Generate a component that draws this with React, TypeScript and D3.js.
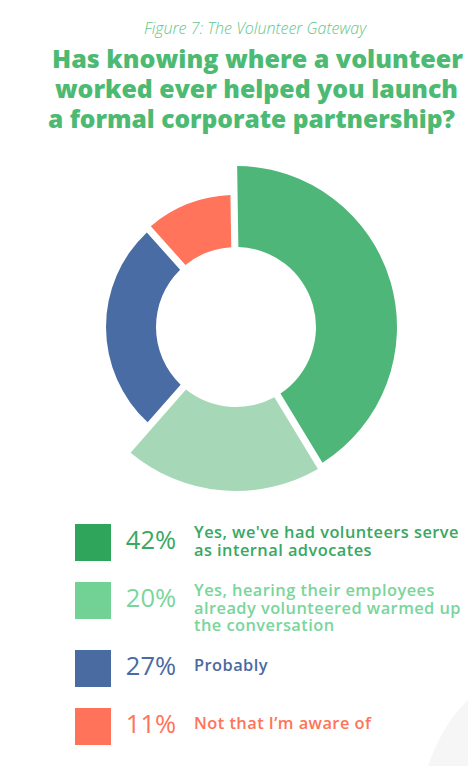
import { useMemo } from "react";
import * as d3 from "d3";

const width = 468;
const height = 766;

// chart data
const categories = [
  "Yes, we've had volunteers serve as internal advocates",
  "Yes, hearing their employees already volunteered warmed up the conversation",
  "Probably",
  "Not that I’m aware of",
];
const labelLines = [
  ["Yes, we've had volunteers serve", "as internal advocates"],
  ["Yes, hearing their employees", "already volunteered warmed up", "the conversation"],
  ["Probably"],
  ["Not that I’m aware of"],
];
const values = [42, 20, 27, 11];

const subtitle = "Figure 7: The Volunteer Gateway";
const titleLines = [
  "Has knowing where a volunteer",
  "worked ever helped you launch",
  "a formal corporate partnership?",
];

// styles
const sliceInner = ["#60cc8e", "#bae5cb", "#4a6ca4", "#ff745a"];
const sliceOuter = ["#4eb678", "#a6d8b8", "#4a6ca4", "#ff745a"];
const outerRadii = [161, 164, 130, 132];
const legendColors = ["#2ea55b", "#72d194", "#4a6aa2", "#ff735a"];
const textColors = ["#38a862", "#7ad59b", "#4a6aa2", "#ff7359"];
const titleColor = "#4cba72";

const cx = 236;
const cy = 327;
const innerR = 80;

const App = () => {
  const arcs = useMemo(() => {
    const pie = d3
      .pie<number>()
      .sort(null)
      .value((d) => d)
      .startAngle(-0.015)
      .endAngle(Math.PI * 2 - 0.015)
      .padAngle(0.04);
    return pie(values).map((a, i) => {
      const arc = d3
        .arc<d3.PieArcDatum<number>>()
        .innerRadius(innerR)
        .outerRadius(outerRadii[i])
        .padRadius(178);
      return arc(a) as string;
    });
  }, []);

  const rows = useMemo(() => {
    let top = 524;
    return labelLines.map((lines, i) => {
      const r = { top, lines, i };
      top += 48 + 10 * Math.max(lines.length - 1, 1);
      return r;
    });
  }, []);

  const sq = 36;
  const lh = 17.5;
  const font = "'Open Sans', 'Noto Sans', sans-serif";

  return (
    <div style={{ position: "absolute", left: 0, top: 0 }}>
      <svg width={width} height={height} style={{ display: "block" }}>
        <defs>
          {values.map((_, i) => (
            <radialGradient
              key={i}
              id={`g${i}`}
              gradientUnits="userSpaceOnUse"
              cx={cx - 15}
              cy={cy}
              r={outerRadii[i] + 15}
            >
              <stop offset="0.5" stopColor={sliceInner[i]} />
              <stop offset="1" stopColor={sliceOuter[i]} />
            </radialGradient>
          ))}
        </defs>
        <rect width={width} height={height} fill="#ffffff" />
        <path d="M468,700 Q442,725 428,766 L468,766 Z" fill="#f6f6f6" />

        <text
          x={255}
          y={34}
          textAnchor="middle"
          fontFamily={font}
          fontStyle="italic"
          fontWeight={300}
          fontSize={16}
          fill="#62c68a"
        >
          {subtitle}
        </text>
        {titleLines.map((t, i) => (
          <text
            key={i}
            x={[52, 55, 48][i]}
            y={68 + i * 30}
            fontFamily={font}
            fontWeight={800}
            fontSize={25}
            fill={titleColor}
            textLength={[411, 403, 407][i]}
            lengthAdjust="spacingAndGlyphs"
          >
            {t}
          </text>
        ))}

        <g>
          {arcs.map((d, i) => (
            <path
              key={i}
              d={d}
              fill={`url(#g${i})`}
              transform={`translate(${cx},${cy})`}
            >
              <title>{categories[i]}</title>
            </path>
          ))}
        </g>

        {rows.map(({ top, lines, i }) => {
          const mid = top + sq / 2;
          const first = lines.length > 1 ? top + 14 : mid + 3;
          return (
            <g key={i}>
              <rect x={75} y={top} width={sq} height={37} fill={legendColors[i]} />
              <text
                x={151}
                y={mid + 7}
                textAnchor="middle"
                fontFamily={font}
                fontWeight={500}
                fontSize={25.5}
                fill={textColors[i]}
              >
                {values[i]}%
              </text>
              {lines.map((l, j) => (
                <text
                  key={j}
                  x={194}
                  y={first + j * lh}
                  fontFamily={font}
                  fontWeight={600}
                  fontSize={16.4}
                  letterSpacing={0.45}
                  fill={textColors[i]}
                >
                  {l}
                </text>
              ))}
            </g>
          );
        })}
      </svg>
    </div>
  );
};

export default App;
